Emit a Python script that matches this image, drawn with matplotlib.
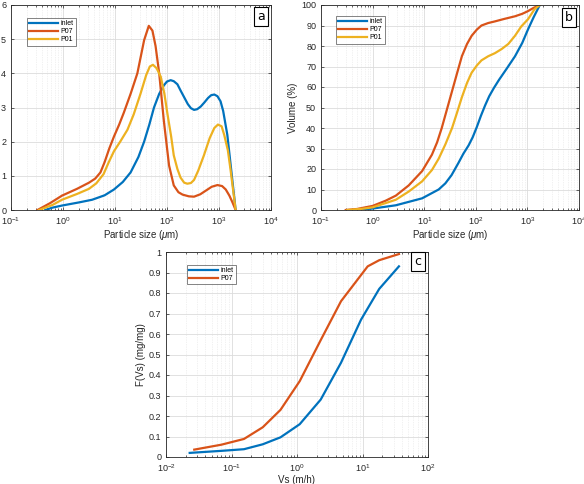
import matplotlib
matplotlib.use("Agg")
import matplotlib.pyplot as plt
import numpy as np
from matplotlib.ticker import LogLocator, MultipleLocator, NullFormatter

plt.rcParams['font.family'] = ['Liberation Sans', 'DejaVu Sans']
plt.rcParams['mathtext.fontset'] = 'custom'
plt.rcParams['mathtext.rm'] = 'Liberation Sans'
plt.rcParams['mathtext.it'] = 'Liberation Sans:italic'

# ---- Panel a: frequency distribution (log10 particle size, value) ----
a_inlet_logx = [-0.34, -0.2, -0.02, 0.3, 0.56, 0.8, 0.98, 1.15, 1.3, 1.45, 1.56, 1.66, 1.75, 1.85, 1.94, 2.0, 2.07, 2.13, 2.2, 2.26, 2.33, 2.4, 2.46, 2.52, 2.58, 2.65, 2.72, 2.79, 2.85, 2.91, 2.97, 3.03, 3.08, 3.16, 3.24, 3.32]
a_inlet_y = [0.0, 0.07, 0.13, 0.22, 0.3, 0.43, 0.6, 0.82, 1.1, 1.55, 2.0, 2.5, 3.0, 3.4, 3.65, 3.76, 3.8, 3.77, 3.68, 3.5, 3.3, 3.1, 2.98, 2.93, 2.95, 3.03, 3.15, 3.28, 3.36, 3.38, 3.33, 3.18, 2.9, 2.2, 1.1, 0.0]
a_p07_logx = [-0.49, -0.25, -0.02, 0.27, 0.5, 0.62, 0.72, 0.8, 0.89, 0.98, 1.08, 1.17, 1.3, 1.43, 1.56, 1.65, 1.72, 1.78, 1.85, 1.94, 2.04, 2.13, 2.22, 2.3, 2.42, 2.52, 2.64, 2.74, 2.86, 2.97, 3.06, 3.13, 3.2, 3.26, 3.32]
a_p07_y = [0.0, 0.2, 0.42, 0.62, 0.8, 0.92, 1.1, 1.4, 1.8, 2.15, 2.5, 2.85, 3.4, 4.0, 4.97, 5.39, 5.25, 4.8, 4.0, 2.6, 1.3, 0.72, 0.52, 0.45, 0.4, 0.39, 0.46, 0.56, 0.68, 0.73, 0.7, 0.6, 0.42, 0.22, 0.0]
a_p01_logx = [-0.46, -0.2, -0.02, 0.27, 0.5, 0.64, 0.78, 0.88, 0.98, 1.1, 1.24, 1.36, 1.49, 1.6, 1.67, 1.73, 1.8, 1.88, 1.95, 2.01, 2.08, 2.13, 2.2, 2.26, 2.33, 2.39, 2.46, 2.52, 2.6, 2.71, 2.82, 2.91, 2.98, 3.05, 3.1, 3.17, 3.22, 3.27, 3.32]
a_p01_y = [0.0, 0.15, 0.3, 0.47, 0.62, 0.78, 1.05, 1.4, 1.72, 2.0, 2.35, 2.8, 3.4, 3.95, 4.2, 4.25, 4.15, 3.9, 3.4, 2.8, 2.15, 1.6, 1.2, 0.95, 0.8, 0.77, 0.79, 0.88, 1.15, 1.6, 2.1, 2.4, 2.5, 2.45, 2.2, 1.75, 1.2, 0.6, 0.0]

# ---- Panel b: cumulative volume (log10 particle size, %) ----
b_inlet_logx = [-0.33, 0.0, 0.45, 0.96, 1.28, 1.41, 1.53, 1.66, 1.76, 1.86, 1.94, 2.02, 2.1, 2.18, 2.26, 2.35, 2.45, 2.6, 2.76, 2.9, 3.01, 3.12, 3.24]
b_inlet_y = [0.0, 0.7, 2.3, 5.7, 10.0, 13.0, 17.0, 22.8, 27.5, 31.5, 35.5, 40.5, 46.0, 51.0, 55.5, 59.5, 63.5, 69.0, 75.0, 81.5, 88.0, 94.0, 100.0]
b_p07_logx = [-0.52, -0.3, 0.0, 0.25, 0.45, 0.7, 0.96, 1.15, 1.25, 1.34, 1.44, 1.54, 1.64, 1.73, 1.83, 1.92, 2.02, 2.11, 2.24, 2.37, 2.55, 2.76, 2.9, 3.01, 3.12, 3.24]
b_p07_y = [0.0, 0.5, 2.0, 4.5, 7.0, 12.0, 19.0, 27.0, 33.0, 40.0, 49.0, 58.0, 67.0, 75.0, 81.0, 85.0, 88.0, 90.0, 91.2, 92.0, 93.2, 94.5, 95.7, 97.0, 98.6, 100.0]
b_p01_logx = [-0.49, -0.2, 0.0, 0.45, 0.7, 0.96, 1.15, 1.28, 1.41, 1.54, 1.63, 1.73, 1.83, 1.92, 2.02, 2.11, 2.24, 2.37, 2.5, 2.63, 2.76, 2.88, 3.01, 3.14, 3.24]
b_p01_y = [0.0, 0.6, 1.3, 5.0, 9.0, 14.0, 19.5, 25.0, 32.0, 40.0, 47.0, 55.0, 62.0, 67.0, 70.5, 73.0, 75.0, 76.5, 78.5, 81.0, 85.0, 89.5, 93.0, 98.0, 100.0]

# ---- Panel c: settling velocity distribution ----
c_inlet_vs = [0.023, 0.07, 0.155, 0.3, 0.56, 1.1, 2.3, 4.7, 9.5, 18.0, 36.0]
c_inlet_f = [0.02, 0.03, 0.038, 0.062, 0.096, 0.16, 0.28, 0.46, 0.67, 0.82, 0.93]
c_p07_vs = [0.027, 0.07, 0.155, 0.3, 0.56, 1.1, 2.3, 4.7, 12.0, 18.0, 36.0]
c_p07_f = [0.036, 0.06, 0.088, 0.145, 0.23, 0.37, 0.57, 0.76, 0.93, 0.96, 0.99]
c_yticks = [0, 0.1, 0.2, 0.3, 0.4, 0.5, 0.6, 0.7, 0.8, 0.9, 1.0]
c_yticklabels = ['0', '0.1', '0.2', '0.3', '0.4', '0.5', '0.6', '0.7', '0.8', '0.9', '1']

blue, orange, yellow = '#0072BD', '#D95319', '#EDB120'
W, H = 584, 484
fig = plt.figure(figsize=(W / 100, H / 100), dpi=100)

def px_axes(x0, y0, x1, y1):
    return fig.add_axes([x0 / W, 1 - y1 / H, (x1 - x0) / W, (y1 - y0) / H])

def style(ax, xlim, ylim, ystep):
    ax.set_xscale('log')
    ax.yaxis.set_major_locator(MultipleLocator(ystep))
    ax.xaxis.set_major_locator(LogLocator(base=10, numticks=20))
    ax.xaxis.set_minor_locator(LogLocator(base=10, subs=np.arange(2, 10), numticks=100))
    ax.xaxis.set_minor_formatter(NullFormatter())
    ax.set_xlim(*xlim)
    ax.set_ylim(*ylim)
    ax.grid(True, which='major', color='#dcdcdc', lw=0.6)
    ax.grid(True, which='minor', axis='x', color='#e4e4e4', lw=0.5, ls=(0, (1, 1.5)))
    ax.set_axisbelow(True)
    ax.tick_params(which='both', direction='in', top=True, right=True,
                   labelsize=6.5, colors='#262626', length=2.5, width=0.5)
    ax.tick_params(which='minor', length=1.5)
    for s in ax.spines.values():
        s.set_color('#262626')
        s.set_linewidth(0.6)

def label_box(ax, text, x, y):
    ax.text(x, y, text, transform=ax.transAxes, ha='center', va='center',
            fontsize=9, fontfamily='DejaVu Sans',
            bbox=dict(boxstyle='square,pad=0.25', fc='white', ec='black', lw=0.8))

def legend(ax, x, y):
    leg = ax.legend(loc='upper left', bbox_to_anchor=(x, y), fontsize=5, frameon=True,
                    fancybox=False, edgecolor='#262626', handlelength=4.2, borderpad=0.3,
                    labelspacing=0.15, handletextpad=0.3, borderaxespad=0)
    leg.get_frame().set_linewidth(0.5)

lw = 1.6
# Panel a
ax = px_axes(11, 5, 271, 210)
ax.plot(10 ** np.array(a_inlet_logx), a_inlet_y, color=blue, lw=lw, label='inlet')
ax.plot(10 ** np.array(a_p07_logx), a_p07_y, color=orange, lw=lw, label='P07')
ax.plot(10 ** np.array(a_p01_logx), a_p01_y, color=yellow, lw=lw, label='P01')
style(ax, (0.1, 1e4), (0, 6), 1)
ax.set_xlabel(r'Particle size ($\mu$m)', fontsize=7, color='#262626', labelpad=1)
legend(ax, 0.062, 0.935)
label_box(ax, 'a', 0.962, 0.945)

# Panel b
ax = px_axes(321, 5, 579, 210)
ax.plot(10 ** np.array(b_inlet_logx), b_inlet_y, color=blue, lw=lw, label='inlet')
ax.plot(10 ** np.array(b_p07_logx), b_p07_y, color=orange, lw=lw, label='P07')
ax.plot(10 ** np.array(b_p01_logx), b_p01_y, color=yellow, lw=lw, label='P01')
style(ax, (0.1, 1e4), (0, 100), 10)
ax.set_xlabel(r'Particle size ($\mu$m)', fontsize=7, color='#262626', labelpad=1)
ax.set_ylabel('Volume (%)', fontsize=7, color='#262626', labelpad=2)
legend(ax, 0.058, 0.945)
label_box(ax, 'b', 0.962, 0.94)

# Panel c
ax = px_axes(166, 252, 428, 457)
ax.plot(c_inlet_vs, c_inlet_f, color=blue, lw=lw, label='inlet')
ax.plot(c_p07_vs, c_p07_f, color=orange, lw=lw, label='P07')
style(ax, (0.01, 100), (0, 1), 0.1)
ax.set_yticks(c_yticks, c_yticklabels)
ax.set_ylim(0, 1)
ax.set_xlabel('Vs (m/h)', fontsize=7, color='#262626', labelpad=1)
ax.set_ylabel('F(Vs) (mg/mg)', fontsize=7, color='#262626', labelpad=2)
legend(ax, 0.08, 0.937)
label_box(ax, 'c', 0.962, 0.955)

fig.savefig('out.png', dpi=100)
